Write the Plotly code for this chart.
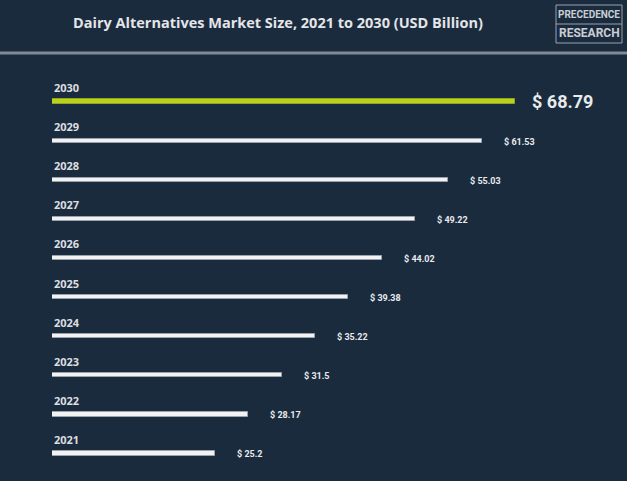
import math
import plotly.graph_objects as go

years = [2021, 2022, 2023, 2024, 2025, 2026, 2027, 2028, 2029, 2030]
values = [25.2, 28.17, 31.5, 35.22, 39.38, 44.02, 49.22, 55.03, 61.53, 68.79]
value_labels = ["$ 25.2", "$ 28.17", "$ 31.5", "$ 35.22", "$ 39.38", "$ 44.02",
                "$ 49.22", "$ 55.03", "$ 61.53", "$ 68.79"]
title_text = "Dairy Alternatives Market Size, 2021 to 2030 (USD Billion)"

W, H = 627, 481
BG = "#1b2b3e"
ML, MR, MT, MB = 52, 15, 82, 8
plot_w = W - ML - MR
plot_h = H - MT - MB
COND = "Roboto, sans-serif"

def px_x(px):
    return (px - ML) / plot_w

def px_y(py):
    return (H - MB - py) / plot_h

colors = ["#f2f2f2"] * (len(years) - 1) + ["#b9d31a"]
lines = ["#9aa3ad"] * (len(years) - 1) + ["#8fa32a"]

fig = go.Figure()
fig.add_trace(go.Bar(
    x=values, y=years, orientation="h", width=0.11,
    marker=dict(color=colors, line=dict(color=lines, width=1)),
    hoverinfo="skip", showlegend=False,
))

annotations = []
for yr, v, lab in zip(years, values, value_labels):
    big = yr == years[-1]
    annotations.append(dict(
        x=math.log10(v), y=yr, xref="x", yref="y", text=lab, showarrow=False,
        xanchor="left", yanchor="middle", xshift=15 if big else 20,
        yshift=0 if big else -1,
        font=dict(family=COND, size=18 if big else 9, color="#e8eaec", weight="bold"),
    ))
    annotations.append(dict(
        x=0, y=yr, xref="paper", yref="y", text=str(yr), showarrow=False,
        xanchor="left", yanchor="middle", yshift=14,
        font=dict(family="Open Sans, sans-serif", size=11, color="#dcdfe2", weight="bold"),
    ))

# logo text
annotations.append(dict(x=px_x(589), y=px_y(14.5), xref="paper", yref="paper",
                        text="PRECEDENCE", showarrow=False, xanchor="center", yanchor="middle",
                        font=dict(family=COND, size=10, color="#c9ced4", weight="bold")))
annotations.append(dict(x=px_x(589), y=px_y(33.5), xref="paper", yref="paper",
                        text="RESEARCH", showarrow=False, xanchor="center", yanchor="middle",
                        font=dict(family=COND, size=12, color="#c9ced4", weight="bold")))

shapes = [
    dict(type="line", xref="paper", yref="paper", x0=px_x(0), x1=px_x(W),
         y0=px_y(53), y1=px_y(53), line=dict(color="#7f8a96", width=3)),
    dict(type="rect", xref="paper", yref="paper", x0=px_x(556), x1=px_x(622),
         y0=px_y(5), y1=px_y(43), line=dict(color="#9aa3ad", width=1)),
    dict(type="line", xref="paper", yref="paper", x0=px_x(556), x1=px_x(622),
         y0=px_y(24), y1=px_y(24), line=dict(color="#9aa3ad", width=1)),
]

fig.update_layout(
    width=W, height=H,
    margin=dict(l=ML, r=MR, t=MT, b=MB),
    paper_bgcolor=BG, plot_bgcolor=BG,
    title=dict(text=title_text, xref="container", yref="container",
               x=278 / W, y=1 - 23 / H, xanchor="center", yanchor="middle",
               font=dict(family="Open Sans, sans-serif", size=14.5, color="#e3e5e8", weight="bold")),
    xaxis=dict(type="log", range=[1.1645, 1.1645 + plot_w / 688], visible=False, fixedrange=True),
    yaxis=dict(range=[2020.5, 2030.5], visible=False, fixedrange=True),
    annotations=annotations, shapes=shapes,
    bargap=0,
)

fig.write_html("out.html")
